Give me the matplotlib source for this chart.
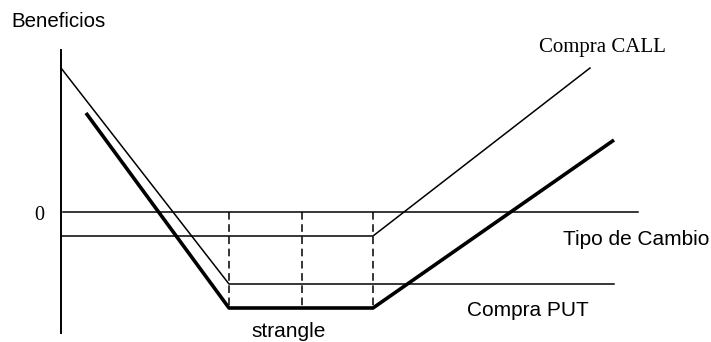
import matplotlib
matplotlib.use("Agg")
import matplotlib.pyplot as plt

# payoff diagram, x = tipo de cambio, y = beneficio (arbitrary units)
axis_x = [0, 0]
axis_y = [162, -121]

zero_x = [2, 577]
zero_y = [0, 0]

call_x = [0, 312, 529]
call_y = [-24, -24, 144]

put_x = [0, 168, 553]
put_y = [144, -72, -72]

strangle_x = [25, 168, 312, 553]
strangle_y = [99, -96, -96, 72]

strikes = [168, 241, 312]
strike_bottom = -96

fig = plt.figure(figsize=(7.11, 3.42), dpi=100)
ax = fig.add_axes([0, 0, 1, 1])
ax.set_xlim(-61, 650)
ax.set_ylim(-130, 212)
ax.axis("off")

thin = 1.1
ax.plot(axis_x, axis_y, color="black", lw=1.4)
ax.plot(zero_x, zero_y, color="black", lw=thin)
ax.plot(call_x, call_y, color="black", lw=thin)
ax.plot(put_x, put_y, color="black", lw=thin)
ax.plot(strangle_x, strangle_y, color="black", lw=2.6, solid_capstyle="butt")
for k in strikes:
    ax.plot([k, k], [0, strike_bottom], color="black", lw=1.1, ls=(0, (5, 3)))

sans = "Liberation Sans"
serif = "Liberation Serif"
ax.text(-50, 185, "Beneficios", family=sans, fontsize=14.8, va="baseline")
ax.text(-22, -8, "0", family=serif, fontsize=14.5, ha="center", va="baseline")
ax.text(478, 160, "Compra CALL", family=serif, fontsize=15, va="baseline")
ax.text(502, -33, "Tipo de Cambio", family=sans, fontsize=15, va="baseline")
ax.text(406, -104, "Compra PUT", family=sans, fontsize=15, va="baseline")
ax.text(228, -125, "strangle", family=sans, fontsize=15, ha="center", va="baseline")

fig.savefig("out.png", dpi=100)
